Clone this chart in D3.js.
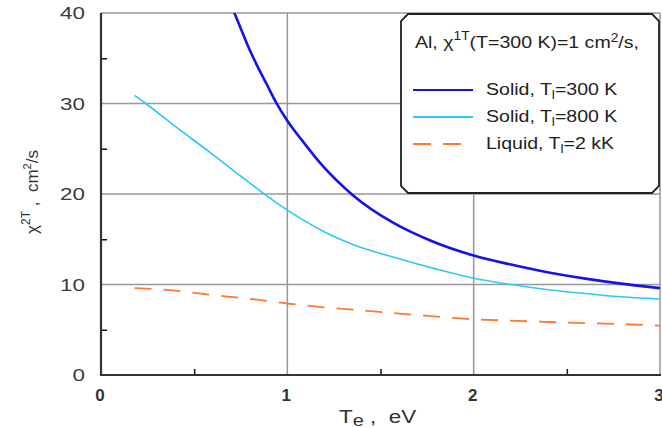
<!DOCTYPE html>
<html>
<head>
<meta charset="utf-8">
<script src="https://cdn.jsdelivr.net/npm/d3@7"></script>
<style>
  html, body { margin: 0; padding: 0; background: #fff; }
  svg { display: block; font-family: "Liberation Sans", Arial, sans-serif; }
</style>
</head>
<body>
<svg id="chart" width="662" height="427"></svg>
<script>
  // values
  var xTicks = [0, 1, 2, 3];
  var yTicks = [0, 10, 20, 30, 40];
  var xMinor = [0.5, 1.5, 2.5];
  var yMinor = [5, 15, 25, 35];

  var teSolid300 = [0.71, 0.75, 0.79, 0.84, 0.89, 0.94, 1.0, 1.08, 1.19, 1.35, 1.57, 1.78, 2.0, 2.2, 2.41, 2.6, 2.77, 3.0];
  var chiSolid300 = [40.3, 38.3, 36.3, 34.1, 32.1, 30.1, 28.1, 25.9, 23.1, 19.9, 16.8, 14.75, 13.2, 12.2, 11.3, 10.65, 10.15, 9.6];

  var teSolid800 = [0.18, 0.24, 0.39, 0.585, 0.78, 0.87, 0.98, 1.08, 1.2, 1.355, 1.59, 1.8, 2.0, 2.2, 2.41, 2.6, 2.77, 3.0];
  var chiSolid800 = [30.9, 30.0, 27.6, 24.6, 21.5, 20.1, 18.5, 17.2, 15.8, 14.4, 12.9, 11.7, 10.7, 10.0, 9.4, 9.0, 8.67, 8.4];

  var teLiquid = [0.18, 0.41, 0.55, 0.71, 0.85, 1.0, 1.43, 1.69, 2.0, 2.23, 2.5, 2.77, 3.0];
  var chiLiquid = [9.6, 9.3, 8.95, 8.6, 8.3, 7.9, 7.08, 6.64, 6.16, 5.98, 5.79, 5.64, 5.45];

  var series = [
    { te: teSolid800, chi: chiSolid800, color: "#2cc8fa", width: 1.6, dash: null, label: "Solid, T", sub: "l", rest: "=800 K" },
    { te: teLiquid, chi: chiLiquid, color: "#ff7a30", width: 1.8, dash: "17,12", label: "Liquid, T", sub: "l", rest: "=2 kK" },
    { te: teSolid300, chi: chiSolid300, color: "#1414e6", width: 2.6, dash: null, label: "Solid, T", sub: "l", rest: "=300 K" }
  ];
  var legendOrder = [series[2], series[0], series[1]];

  var svg = d3.select("#chart");
  var plotL = 101, plotR = 660, plotT = 13, plotB = 375;

  var x = d3.scaleLinear().domain([0, 3]).range([plotL, plotR]);
  var y = d3.scaleLinear().domain([0, 40]).range([plotB, plotT]);

  svg.append("defs").append("clipPath").attr("id", "plotClip")
    .append("rect").attr("x", plotL).attr("y", plotT).attr("width", plotR - plotL + 2).attr("height", plotB - plotT);

  // grid
  var grid = svg.append("g").attr("stroke", "#999").attr("stroke-width", 1.5);
  grid.selectAll("line.h").data(yTicks.slice(1)).enter().append("line").attr("class", "h")
    .attr("x1", plotL).attr("x2", plotR).attr("y1", function(d){ return y(d); }).attr("y2", function(d){ return y(d); });
  grid.selectAll("line.v").data(xTicks.slice(1)).enter().append("line").attr("class", "v")
    .attr("y1", plotT).attr("y2", plotB).attr("x1", function(d){ return x(d); }).attr("x2", function(d){ return x(d); });

  // axes with inward minor ticks
  var yAxis = d3.axisLeft(y).tickValues(yMinor).tickSize(-6).tickFormat("");
  var gy = svg.append("g").attr("transform", "translate(" + plotL + ",0)").call(yAxis);
  var xAxis = d3.axisBottom(x).tickValues(xMinor).tickSize(-6).tickFormat("");
  var gx = svg.append("g").attr("transform", "translate(0," + plotB + ")").call(xAxis);
  [gx, gy].forEach(function(g){
    g.select(".domain").remove();
    g.selectAll(".tick line").attr("stroke", "#111").attr("stroke-width", 1.5);
  });
  svg.append("line").attr("x1", plotL).attr("x2", plotL).attr("y1", plotT).attr("y2", plotB + 1)
    .attr("stroke", "#333").attr("stroke-width", 2.2);
  svg.append("line").attr("x1", plotL).attr("x2", plotR + 1).attr("y1", plotB).attr("y2", plotB)
    .attr("stroke", "#333").attr("stroke-width", 2.2);

  // tick labels
  svg.selectAll("text.ylab").data(yTicks).enter().append("text").attr("class", "ylab")
    .attr("transform", function(d){ return "translate(85," + (y(d) + 6) + ") scale(1.4,1)"; })
    .attr("text-anchor", "end").attr("font-size", 16).attr("fill", "#3a3a3a")
    .text(function(d){ return d; });
  svg.selectAll("text.xlab").data(xTicks).enter().append("text").attr("class", "xlab")
    .attr("x", function(d){ return x(d) - 1; }).attr("y", 401)
    .attr("text-anchor", "middle").attr("font-size", 17).attr("font-weight", "bold").attr("fill", "#333")
    .text(function(d){ return d; });

  // axis titles
  var xt = svg.append("text").attr("transform", "translate(339,423) scale(1.18,1)")
    .attr("font-size", 19).attr("fill", "#333");
  xt.append("tspan").text("T");
  xt.append("tspan").attr("font-size", 17).attr("dy", 3).text("e");
  xt.append("tspan").attr("dy", -3).attr("xml:space", "preserve").text(" ,  eV");

  var yt = svg.append("text").attr("transform", "translate(38,192) rotate(-90)").attr("text-anchor", "middle")
    .attr("font-size", 17).attr("fill", "#333");
  yt.append("tspan").text("\u03c7");
  yt.append("tspan").attr("font-size", 12).attr("dy", -8).text("2T");
  yt.append("tspan").attr("dy", 8).attr("xml:space", "preserve").text(" ,  cm");
  yt.append("tspan").attr("font-size", 11).attr("dy", -7).text("2");
  yt.append("tspan").attr("dy", 7).text("/s");

  // curves
  var line = d3.line().curve(d3.curveMonotoneX)
    .x(function(d){ return x(d[0]); }).y(function(d){ return y(d[1]); });
  svg.append("g").attr("clip-path", "url(#plotClip)").selectAll("path").data(series).enter().append("path")
    .attr("d", function(s){ return line(d3.zip(s.te, s.chi)); })
    .attr("fill", "none")
    .attr("stroke", function(s){ return s.color; })
    .attr("stroke-width", function(s){ return s.width; })
    .attr("stroke-dasharray", function(s){ return s.dash; });

  // legend box with clipped corners
  var bx0 = 401, by0 = 14, bx1 = 659, by1 = 193, c = 7;
  var box = d3.path();
  box.moveTo(bx0 + c, by0); box.lineTo(bx1 - c, by0); box.lineTo(bx1, by0 + c);
  box.lineTo(bx1, by1 - c); box.lineTo(bx1 - c, by1); box.lineTo(bx0 + c, by1);
  box.lineTo(bx0, by1 - c); box.lineTo(bx0, by0 + c); box.closePath();
  svg.append("path").attr("d", box.toString()).attr("fill", "#fff").attr("stroke", "#222").attr("stroke-width", 1.8);

  var title = svg.append("text").attr("transform", "translate(415,48) scale(1.15,1)")
    .attr("font-size", 17).attr("fill", "#222");
  title.append("tspan").text("Al, \u03c7");
  title.append("tspan").attr("font-size", 12).attr("dy", -8).text("1T");
  title.append("tspan").attr("dy", 8).text("(T=300 K)=1 cm");
  title.append("tspan").attr("font-size", 12).attr("dy", -6).text("2");
  title.append("tspan").attr("dy", 6).text("/s,");

  var leg = svg.selectAll("g.leg").data(legendOrder).enter().append("g").attr("class", "leg")
    .attr("transform", function(d, i){ return "translate(0," + (90 + i * 27) + ")"; });
  leg.append("line").attr("x1", 413).attr("x2", 473).attr("y1", 0).attr("y2", 0)
    .attr("stroke", function(s){ return s.color; })
    .attr("stroke-width", function(s){ return s.width === 2.6 ? 2 : 1.8; })
    .attr("stroke-dasharray", function(s){ return s.dash ? "18,12" : null; });
  var lt = leg.append("text").attr("transform", "translate(486,5) scale(1.15,1)")
    .attr("font-size", 17).attr("fill", "#222");
  lt.append("tspan").text(function(s){ return s.label; });
  lt.append("tspan").attr("font-size", 12).attr("dy", 4).text(function(s){ return s.sub; });
  lt.append("tspan").attr("dy", -4).text(function(s){ return s.rest; });
</script>
</body>
</html>
